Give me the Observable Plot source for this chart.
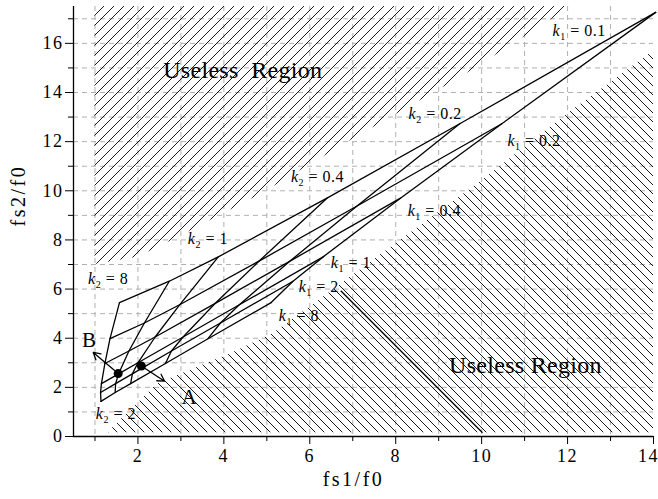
<!DOCTYPE html>
<html><head><meta charset="utf-8">
<script src="https://cdn.jsdelivr.net/npm/d3@7"></script>
<script src="https://cdn.jsdelivr.net/npm/@observablehq/plot@0.6"></script>
<style>body{margin:0;background:#fff}</style>
</head><body><div id="chart"></div>
<script>
// ---- data ----
const k1Values = [0.1, 0.2, 0.4, 1, 2, 8];
const k2Values = [8, 2, 1, 0.4, 0.2, 0.1];
// fs1/f0 and fs2/f0 for each (k1 row, k2 column)
const fs1 = [
  [1.57, 2.73, 3.87, 6.40, 9.49, 14.05],
  [1.35, 2.15, 2.97, 4.82, 7.10, 10.47],
  [1.23, 1.79, 2.40, 3.80, 5.54, 8.11],
  [1.15, 1.55, 2.00, 3.05, 4.36, 6.31],
  [1.13, 1.48, 1.87, 2.78, 3.92, 5.61],
  [1.14, 1.47, 1.83, 2.64, 3.63, 5.10]
];
const fs2 = [
  [5.45, 6.32, 7.31, 9.70, 12.73, 17.26],
  [3.98, 4.62, 5.36, 7.14, 9.38, 12.73],
  [2.97, 3.48, 4.05, 5.42, 7.14, 9.70],
  [2.15, 2.55, 3.00, 4.05, 5.36, 7.31],
  [1.79, 2.15, 2.55, 3.48, 4.62, 6.32],
  [1.43, 1.79, 2.15, 2.97, 3.98, 5.45]
];
// useless-region boundaries
const upperX = [1, 2, 2.7, 4.9, 7, 9.5, 12.1];
const upperY = [7.0, 7.3, 7.9, 9.9, 12.1, 14.6, 17.5];
const lowerX = [1.3, 2.46, 4.16, 5.16, 6.26, 8.1, 10.0, 11.9, 13.16, 14];
const lowerY = [0.15, 2.15, 3.37, 4.2, 5.6, 7.97, 10.4, 13.0, 14.6, 15.7];
// extra straight line in lower region
const lineX = [6.72, 10.02];
const lineY = [5.93, 0.15];
// design points A and B with arrows
const ptName = ["B", "A"];
const ptX = [1.54, 2.08];
const ptY = [2.56, 2.87];
const arrowEndX = [0.96, 2.62];
const arrowEndY = [3.42, 2.25];
const ptLabelX = [0.86, 3.19];
const ptLabelY = [3.9, 1.58];
// curve labels
const labelText = ["k1 = 0.1", "k2 = 0.2", "k1 = 0.2", "k2 = 0.4", "k1 = 0.4", "k2 = 1", "k1 = 1", "k1 = 2", "k1 = 8", "k2 = 8", "k2 = 2"];
const labelX = [11.65, 8.30, 10.6, 5.56, 8.28, 3.16, 6.49, 5.74, 5.28, 0.84, 1.02];
const labelY = [16.5, 13.13, 12.04, 10.57, 9.18, 8.04, 7.08, 6.09, 4.9, 6.42, 0.92];
const regionText = ["Useless  Region", "Useless Region"];
const regionX = [4.44, 11.02];
const regionY = [14.89, 2.88];
const xMajor = [2, 4, 6, 8, 10, 12, 14];
const xMinor = [1, 3, 5, 7, 9, 11, 13];
const yMajor = [0, 2, 4, 6, 8, 10, 12, 14, 16];
const yMinor = [1, 3, 5, 7, 9, 11, 13, 15, 17];

// ---- build tables ----
const byK1 = [], byK2 = [];
k1Values.forEach((k1, i) => k2Values.forEach((k2, j) => byK1.push({k1, k2, x: fs1[i][j], y: fs2[i][j]})));
k2Values.forEach((k2, j) => k1Values.forEach((k1, i) => byK2.push({k1, k2, x: fs1[i][j], y: fs2[i][j]})));
const upper = upperX.map((x, i) => ({x, y: upperY[i]}));
const lower = lowerX.map((x, i) => ({x, y: lowerY[i]}));
const pts = ptName.map((n, i) => ({n, x: ptX[i], y: ptY[i], x2: arrowEndX[i], y2: arrowEndY[i], lx: ptLabelX[i], ly: ptLabelY[i]}));
const labels = labelText.map((t, i) => ({t, x: labelX[i], y: labelY[i]}));
const regions = regionText.map((t, i) => ({t, x: regionX[i], y: regionY[i]}));
const seg = [{x1: lineX[0], y1: lineY[0], x2: lineX[1], y2: lineY[1]}];
const gridXs = d3.range(1, 14), gridYs = d3.range(1, 18);

const plot = Plot.plot({
  width: 658, height: 499,
  marginLeft: 73, marginRight: 5, marginTop: 6, marginBottom: 63,
  style: {fontFamily: "'Liberation Serif', serif", fontSize: "17px", color: "black", background: "white"},
  x: {domain: [0.5, 14]},
  y: {domain: [0, 17.5]},
  marks: [
    Plot.ruleX(gridXs, {stroke: "#b0b0b0", strokeDasharray: "5,4", strokeWidth: 1}),
    Plot.ruleY(gridYs, {stroke: "#b0b0b0", strokeDasharray: "5,4", strokeWidth: 1}),
    Plot.areaY(upper, {x: "x", y1: "y", y2: 17.5, fill: "url(#hatchUp)"}),
    Plot.areaY(lower, {x: "x", y1: 0.15, y2: "y", fill: "url(#hatchDown)"}),
    Plot.link(seg, {x1: "x1", y1: "y1", x2: "x2", y2: "y2", stroke: "black", strokeWidth: 1.3}),
    Plot.line(byK1, {x: "x", y: "y", z: "k1", stroke: "black", strokeWidth: 1.3}),
    Plot.line(byK2, {x: "x", y: "y", z: "k2", stroke: "black", strokeWidth: 1.3}),
    Plot.arrow(pts, {x1: "x", y1: "y", x2: "x2", y2: "y2", stroke: "black", strokeWidth: 1.3, headLength: 9}),
    Plot.dot(pts, {x: "x", y: "y", r: 4.5, fill: "black"}),
    Plot.text(pts, {x: "lx", y: "ly", text: "n", fontSize: 21}),
    Plot.text(labels, {x: "x", y: "y", text: "t", textAnchor: "start", fontSize: 16}),
    Plot.text(regions, {x: "x", y: "y", text: "t", fontSize: 24}),
    Plot.ruleX([0.5], {stroke: "black", strokeWidth: 1.3}),
    Plot.ruleY([0], {stroke: "black", strokeWidth: 1.3}),
    Plot.axisX({ticks: xMajor, tickSize: 8, tickPadding: 5, label: null}),
    Plot.axisX({ticks: xMinor, tickSize: 5, tickFormat: () => "", label: null}),
    Plot.axisY({ticks: yMajor, tickSize: 8, tickPadding: 2, label: null}),
    Plot.axisY({ticks: yMinor, tickSize: 5, tickFormat: () => "", label: null}),
    Plot.text(["fs1/f0"], {frameAnchor: "bottom", dx: -10, dy: 49, fontSize: 20}),
    Plot.text(["fs2/f0"], {frameAnchor: "left", rotate: -90, dx: -55, dy: 5, fontSize: 20})
  ]
});

// hatch patterns
const ns = "http://www.w3.org/2000/svg";
const defs = document.createElementNS(ns, "defs");
defs.innerHTML = `
<pattern id="hatchUp" patternUnits="userSpaceOnUse" width="10" height="10">
  <path d="M0,10 L10,0 M-1,1 L1,-1 M9,11 L11,9" stroke="black" stroke-width="0.9"/>
</pattern>
<pattern id="hatchDown" patternUnits="userSpaceOnUse" width="9" height="9">
  <path d="M0,0 L9,9 M-1,8 L1,10 M8,-1 L10,1" stroke="black" stroke-width="0.9"/>
</pattern>`;
plot.insertBefore(defs, plot.firstChild);

// tick label size; keep the last x label inside the picture
plot.querySelectorAll('g[aria-label$="tick label"]').forEach(g => {
  g.setAttribute("font-size", "18");
  g.querySelectorAll("text").forEach(t => {
    t.style.fontSize = "18px"; t.style.letterSpacing = "1.5px";
    if (t.textContent === "14" && g.getAttribute("aria-label").startsWith("x")) t.setAttribute("dx", "-5");
  });
});

// axis titles spaced like the reference; italic k with subscript
plot.querySelectorAll("text").forEach(t => {
  if (t.textContent === "fs1/f0" || t.textContent === "fs2/f0") { t.style.letterSpacing = "2.5px"; return; }
  if (t.textContent.startsWith("Useless")) { t.style.letterSpacing = "0.3px"; return; }
  const m = /^k([12]) = (.+)$/.exec(t.textContent);
  if (!m) return;
  t.textContent = "";
  t.style.letterSpacing = "0.5px";
  const a = document.createElementNS(ns, "tspan"); a.setAttribute("font-style", "italic"); a.textContent = "k";
  const b = document.createElementNS(ns, "tspan"); b.setAttribute("dy", "4"); b.setAttribute("font-size", "10"); b.textContent = m[1];
  const c = document.createElementNS(ns, "tspan"); c.setAttribute("dy", "-4"); c.textContent = " = " + m[2];
  t.append(a, b, c);
});
document.getElementById("chart").append(plot);
</script></body></html>
